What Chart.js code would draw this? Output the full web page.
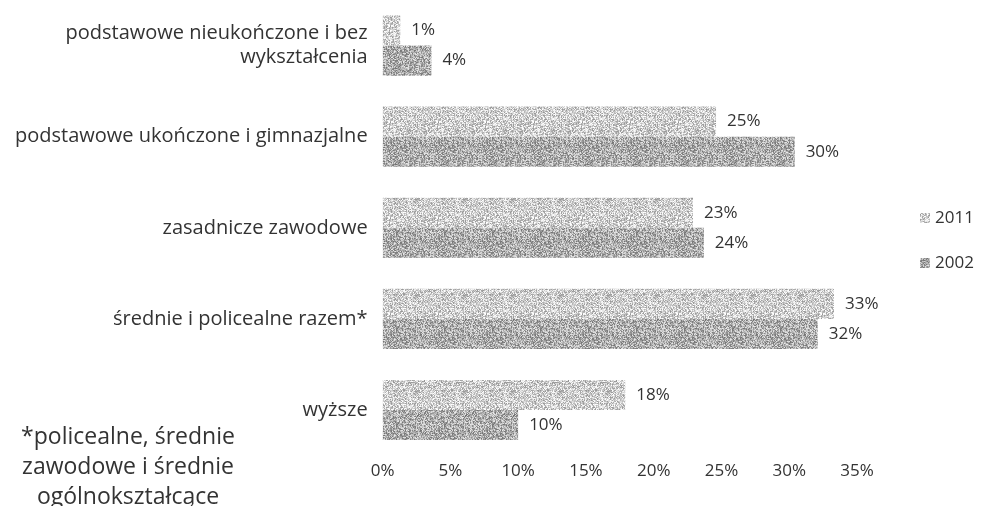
<!DOCTYPE html>
<html>
<head>
<meta charset="utf-8">
<script src="https://cdn.jsdelivr.net/npm/chart.js@4"></script>
<style>
    body { margin: 0; background: #fff; }
    #wrap { position: relative; width: 981px; height: 506px; }
</style>
</head>
<body>
<div id="wrap"><canvas id="eduChart"></canvas></div>
<script>
// Education level shares, 2011 vs 2002
const categories = [
    ['podstawowe nieukończone i bez', 'wykształcenia'],
    'podstawowe ukończone i gimnazjalne',
    'zasadnicze zawodowe',
    'średnie i policealne razem*',
    'wyższe'
];
const seriesNames = ['2011', '2002'];
const values2011 = [1.3, 24.6, 22.9, 33.3, 17.9];
const values2002 = [3.6, 30.4, 23.7, 32.1, 10.0];
const xTicks = [0, 5, 10, 15, 20, 25, 30, 35];
const footnote = ['*policealne, średnie', 'zawodowe i średnie', 'ogólnokształcące'];

const FONT = '"Open Sans", sans-serif';

// grainy grey fill like the scanned original
function makeGrain(base, spread) {
    const c = document.createElement('canvas');
    c.width = 48; c.height = 48;
    const g = c.getContext('2d');
    const img = g.createImageData(48, 48);
    let seed = base * 7 + 13;
    for (let i = 0; i < 48 * 48; i++) {
        seed = (seed * 1103515245 + 12345) & 0x7fffffff;
        const v = Math.max(0, Math.min(255, base + ((seed % 1000) / 1000 - 0.5) * spread));
        img.data[i * 4] = v;
        img.data[i * 4 + 1] = v;
        img.data[i * 4 + 2] = v;
        img.data[i * 4 + 3] = 255;
    }
    g.putImageData(img, 0, 0);
    return g.createPattern(c, 'repeat');
}

const fill2011 = makeGrain(205, 110);
const fill2002 = makeGrain(175, 120);

const valueLabels = {
    id: 'valueLabels',
    afterDatasetsDraw(chart) {
        const ctx = chart.ctx;
        ctx.save();
        ctx.font = '17px ' + FONT;
        ctx.fillStyle = '#333';
        ctx.textAlign = 'left';
        ctx.textBaseline = 'middle';
        chart.data.datasets.forEach((ds, i) => {
            chart.getDatasetMeta(i).data.forEach((bar, j) => {
                ctx.fillText(Math.round(ds.data[j]) + '%', bar.x + 11, bar.y);
            });
        });
        ctx.restore();
    }
};

const sideLegend = {
    id: 'sideLegend',
    afterDraw(chart) {
        const ctx = chart.ctx;
        ctx.save();
        ctx.font = '17px ' + FONT;
        ctx.textBaseline = 'middle';
        chart.data.datasets.forEach((ds, i) => {
            const y = 218 + i * 45;
            ctx.fillStyle = ds.backgroundColor;
            ctx.fillRect(920, y - 5, 10, 10);
            ctx.fillStyle = '#333';
            ctx.fillText(ds.label, 935, y);
        });
        // footnote
        ctx.textAlign = 'center';
        ctx.font = '23px ' + FONT;
        footnote.forEach((line, k) => {
            ctx.fillText(line, 128, 437 + k * 30);
        });
        ctx.restore();
    }
};

document.addEventListener('DOMContentLoaded', function() {
    const ctx = document.getElementById('eduChart');
    new Chart(ctx, {
        type: 'bar',
        data: {
            labels: categories,
            datasets: [
                { label: seriesNames[0], data: values2011, backgroundColor: fill2011 },
                { label: seriesNames[1], data: values2002, backgroundColor: fill2002 }
            ]
        },
        options: {
            indexAxis: 'y',
            responsive: true,
            maintainAspectRatio: false,
            animation: false,
            layout: { padding: { top: 0, right: 124, bottom: 20, left: 0 } },
            datasets: {
                bar: { categoryPercentage: 0.66, barPercentage: 1.0 }
            },
            scales: {
                x: {
                    min: 0,
                    max: 35,
                    afterBuildTicks(axis) {
                        axis.ticks = xTicks.map(v => ({ value: v }));
                    },
                    grid: { display: false, drawTicks: false },
                    border: { display: false },
                    ticks: {
                        padding: 5,
                        color: '#333',
                        font: { family: FONT, size: 17 },
                        callback: v => v + '%'
                    }
                },
                y: {
                    afterFit(axis) {
                        // bands start right at the top edge
                        axis.paddingTop = 0;
                        axis.paddingBottom = 0;
                    },
                    grid: { display: false, drawTicks: false },
                    border: { display: false },
                    ticks: {
                        padding: 15,
                        color: '#333',
                        font: { family: FONT, size: 20 }
                    }
                }
            },
            plugins: {
                legend: { display: false },
                tooltip: { enabled: false }
            }
        },
        plugins: [valueLabels, sideLegend]
    });
});
</script>
</body>
</html>
